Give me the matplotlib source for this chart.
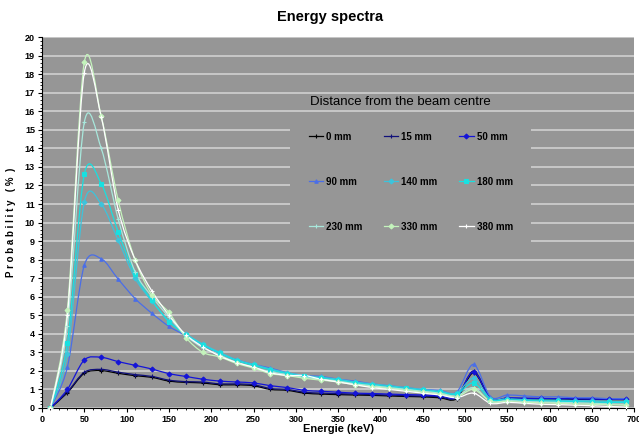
import numpy as np
import matplotlib
matplotlib.use('Agg')
import matplotlib.pyplot as plt
from matplotlib.path import Path
from matplotlib.patches import PathPatch
from matplotlib.lines import Line2D
from matplotlib.ticker import MultipleLocator

plt.rcParams['font.family'] = ['Liberation Sans', 'DejaVu Sans']

# energies of the sampled points (keV)
energy = [10, 30, 50, 70, 90, 110, 130, 150, 170, 190, 210, 230, 250, 270, 290,
          310, 330, 350, 370, 390, 410, 430, 450, 470, 490, 510, 530, 550, 570,
          590, 610, 630, 650, 670, 690]

labels = ['0 mm', '15 mm', '50 mm', '90 mm', '140 mm', '180 mm', '230 mm', '330 mm', '380 mm']

p_0 = [0, 0.82, 1.87, 2.01, 1.87, 1.74, 1.65, 1.45, 1.38, 1.35, 1.25, 1.25, 1.2, 1.0, 0.95,
       0.8, 0.75, 0.72, 0.7, 0.68, 0.65, 0.62, 0.6, 0.55, 0.5, 1.9, 0.5, 0.5, 0.48,
       0.48, 0.47, 0.47, 0.46, 0.45, 0.45]
p_15 = [0, 0.86, 1.93, 2.08, 1.93, 1.8, 1.7, 1.5, 1.42, 1.4, 1.3, 1.3, 1.25, 1.05, 1.0,
        0.85, 0.8, 0.77, 0.75, 0.72, 0.7, 0.66, 0.64, 0.6, 0.55, 2.0, 0.52, 0.52, 0.5,
        0.5, 0.5, 0.49, 0.48, 0.48, 0.47]
p_50 = [0, 1.0, 2.59, 2.73, 2.5, 2.3, 2.1, 1.85, 1.7, 1.55, 1.45, 1.4, 1.35, 1.2, 1.1,
        0.95, 0.9, 0.85, 0.8, 0.78, 0.75, 0.72, 0.7, 0.65, 0.6, 1.95, 0.5, 0.55, 0.53,
        0.52, 0.5, 0.5, 0.48, 0.47, 0.46]
p_90 = [0, 2.2, 7.7, 8.05, 6.95, 5.9, 5.1, 4.4, 3.9, 3.4, 2.95, 2.6, 2.35, 2.15, 1.9,
        1.75, 1.7, 1.55, 1.45, 1.3, 1.2, 1.1, 1.0, 0.95, 0.85, 2.35, 0.6, 0.7, 0.65,
        0.6, 0.6, 0.55, 0.55, 0.5, 0.5]
p_140 = [0, 2.9, 11.1, 11.0, 9.05, 7.0, 5.75, 4.7, 4.0, 3.45, 3.0, 2.6, 2.35, 2.1, 1.9,
         1.75, 1.65, 1.55, 1.4, 1.3, 1.2, 1.1, 1.0, 0.9, 0.8, 1.6, 0.5, 0.5, 0.45,
         0.43, 0.42, 0.4, 0.38, 0.36, 0.35]
p_180 = [0, 3.5, 12.6, 12.1, 9.5, 7.2, 5.8, 4.65, 3.95, 3.4, 2.95, 2.55, 2.3, 2.05, 1.85,
         1.7, 1.6, 1.5, 1.35, 1.25, 1.15, 1.05, 0.95, 0.85, 0.75, 1.35, 0.45, 0.45, 0.4,
         0.38, 0.36, 0.34, 0.32, 0.3, 0.3]
p_230 = [0, 4.4, 15.4, 14.0, 10.2, 7.35, 6.0, 4.9, 3.9, 3.25, 2.85, 2.45, 2.2, 1.95, 1.8,
         1.65, 1.55, 1.45, 1.3, 1.2, 1.1, 1.0, 0.9, 0.8, 0.65, 1.1, 0.35, 0.4, 0.35,
         0.32, 0.3, 0.28, 0.25, 0.22, 0.2]
p_330 = [0, 5.3, 18.64, 15.74, 11.2, 7.98, 6.1, 5.15, 3.8, 3.0, 2.75, 2.4, 2.15, 1.85, 1.75,
         1.6, 1.5, 1.4, 1.25, 1.15, 1.05, 0.95, 0.85, 0.75, 0.6, 1.0, 0.35, 0.35, 0.3,
         0.28, 0.25, 0.22, 0.2, 0.18, 0.15]
p_380 = [0, 5.0, 18.08, 15.7, 10.7, 8.0, 6.3, 5.0, 3.95, 3.3, 2.8, 2.45, 2.2, 1.9, 1.75,
         1.75, 1.55, 1.4, 1.25, 1.1, 1.0, 0.9, 0.8, 0.7, 0.55, 0.8, 0.25, 0.3, 0.25,
         0.2, 0.18, 0.15, 0.12, 0.08, 0.05]

series = [p_0, p_15, p_50, p_90, p_140, p_180, p_230, p_330, p_380]
colors = ['#000000', '#10107a', '#1414d8', '#4a6ee8', '#3cc4dc', '#18e0e0',
          '#a8e8dc', '#c4f4bc', '#ffffff']
markers = ['+', '+', 'D', '^', 'D', 's', '+', 'D', '+']


def smooth_path(x, y, k=1 / 6.5):
    # Bezier control points (Catmull-Rom style), like Excel's smoothed line
    x = np.asarray(x, float)
    y = np.asarray(y, float)
    verts = [(x[0], y[0])]
    codes = [Path.MOVETO]
    n = len(x)
    for i in range(n - 1):
        x0, y0 = (x[i - 1], y[i - 1]) if i > 0 else (x[i], y[i])
        x3, y3 = (x[i + 2], y[i + 2]) if i + 2 < n else (x[i + 1], y[i + 1])
        c1 = (x[i] + (x[i + 1] - x0) * k, y[i] + (y[i + 1] - y0) * k)
        c2 = (x[i + 1] - (x3 - x[i]) * k, y[i + 1] - (y3 - y[i]) * k)
        verts += [c1, c2, (x[i + 1], y[i + 1])]
        codes += [Path.CURVE4] * 3
    return Path(verts, codes)


fig = plt.figure(figsize=(6.39, 4.42), dpi=100)
ax = fig.add_axes([0.0657, 0.077, 0.927, 0.839])
ax.set_facecolor('#969696')

for vals, col, mk in zip(series, colors, markers):
    ax.add_patch(PathPatch(smooth_path(energy, vals), fill=False, edgecolor=col, lw=0.9, zorder=3))
    ax.plot(energy, vals, linestyle='none', marker=mk, ms=2.5, mew=0.8, color=col, zorder=4)

ax.set_xlim(0, 700)
ax.set_ylim(0, 20)
ax.xaxis.set_major_locator(MultipleLocator(50))
ax.xaxis.set_minor_locator(MultipleLocator(10))
ax.yaxis.set_major_locator(MultipleLocator(1))
ax.yaxis.set_minor_locator(MultipleLocator(0.2))
ax.grid(axis='y', which='major', color='#c8c8c8', lw=1.4, zorder=1)
ax.set_axisbelow(True)
for s in ['top', 'right']:
    ax.spines[s].set_visible(False)
ax.tick_params(which='major', direction='out', length=3, width=0.8, labelsize=6.5, pad=2)
ax.tick_params(which='minor', direction='out', length=1.5, width=0.6)
for lab in ax.get_xticklabels() + ax.get_yticklabels():
    lab.set_fontweight('bold')
    lab.set_family(['Liberation Sans Narrow', 'Liberation Sans'])

ax.set_xlabel('Energie (keV)', fontsize=8, fontweight='bold', labelpad=0)
ax.set_ylabel('P r o b a b i l i t y   ( %  )', fontsize=7, fontweight='bold', labelpad=6)
fig.text(0.517, 0.962, 'Energy spectra', ha='center', va='center', fontsize=10.5, fontweight='bold')

# legend filled row by row (matplotlib fills by column)
order = [0, 3, 6, 1, 4, 7, 2, 5, 8]
handles = [Line2D([0], [0], color=colors[i], marker=markers[i], ms=2.5, mew=0.8, lw=0.9) for i in order]
leg = ax.legend(handles, [labels[i] for i in order], ncol=3, loc='upper left',
                bbox_to_anchor=(0.419, 0.795), borderaxespad=0,
                prop={'weight': 'bold', 'size': 7},
                frameon=True, facecolor='#969696', edgecolor='none', framealpha=1,
                fancybox=False, handlelength=1.5, handletextpad=0.3, columnspacing=2.2,
                labelspacing=3.6, borderpad=1.9)
leg.set_zorder(2)
ax.text(0.452, 0.826, 'Distance from the beam centre', transform=ax.transAxes,
        fontsize=9.5, ha='left', va='center', zorder=5)

fig.savefig('out.png', dpi=100)
